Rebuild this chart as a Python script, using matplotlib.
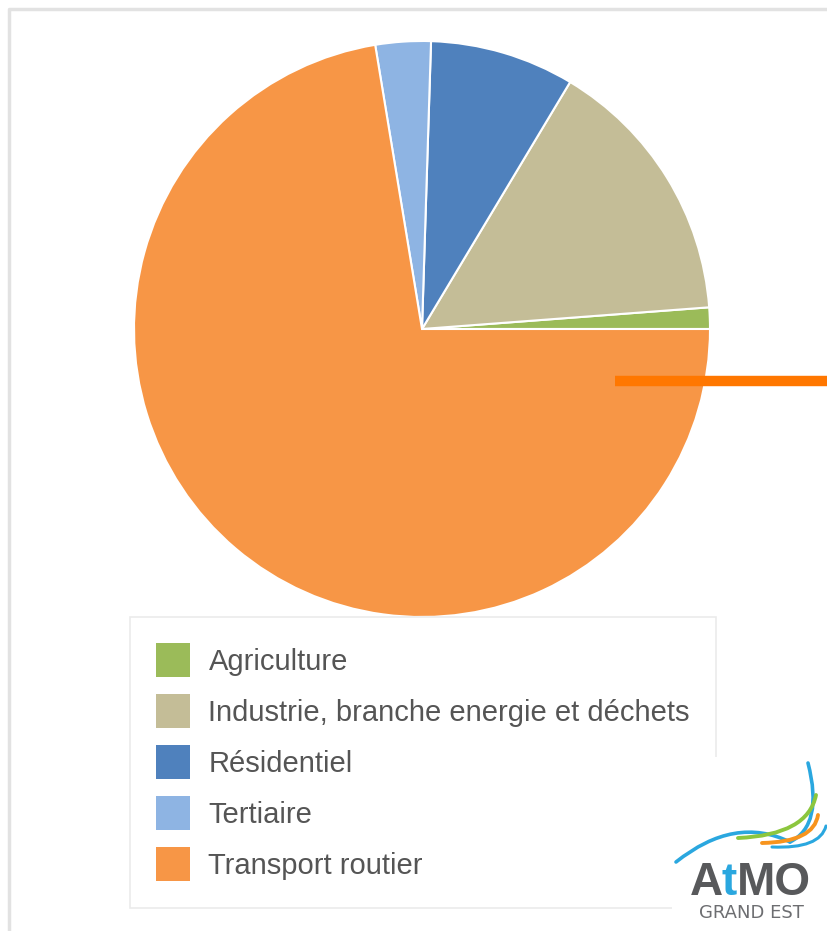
import matplotlib.pyplot as plt
from matplotlib.patches import Rectangle, PathPatch
from matplotlib.path import Path

# data (share of emissions, %)
labels = ["Agriculture", "Industrie, branche energie et déchets", "Résidentiel",
          "Tertiaire", "Transport routier"]
values = [1.2, 15.2, 8.1, 3.1, 72.4]
colors = ["#9BBB59", "#C4BD97", "#4F81BD", "#8EB4E3", "#F79646"]

W, H = 828, 931
fig = plt.figure(figsize=(W / 100, H / 100), dpi=100)
fig.patch.set_facecolor("white")
plt.rcParams["font.family"] = ["Liberation Sans", "DejaVu Sans"]

# pie: centre (422, 329), radius 288 px
cx, cy, r = 422, 329, 288
ax = fig.add_axes([(cx - r) / W, 1 - (cy + r) / H, 2 * r / W, 2 * r / H])
wedges, _ = ax.pie(values, colors=colors, startangle=0, counterclock=True,
                   wedgeprops=dict(edgecolor="white", linewidth=1.5))
ax.set_xlim(-1, 1)
ax.set_ylim(-1, 1)
ax.set_aspect("equal")
ax.axis("off")

leg = fig.legend(wedges, labels, loc="upper left",
                 bbox_to_anchor=(130 / W, 1 - 617 / H),
                 bbox_transform=fig.transFigure,
                 fontsize=21, frameon=True, fancybox=False,
                 edgecolor="#e6e6e6", labelcolor="#555555",
                 handlelength=1.17, handleheight=1.42, handletextpad=0.62,
                 labelspacing=0.58, borderpad=0.9, borderaxespad=0)
leg.get_frame().set_linewidth(1.2)
for h in leg.legend_handles:
    h.set_edgecolor("none")

# overlay in pixel coordinates: frame, orange marker line, logo
ov = fig.add_axes([0, 0, 1, 1], facecolor="none")
ov.set_zorder(10)  # above the legend so the logo patch hides its corner
ov.set_xlim(0, W)
ov.set_ylim(H, 0)
ov.axis("off")

ov.plot([9, 9, W + 5], [H + 5, 9, 9], color="#e2e2e2", lw=2.5)
ov.plot([615, W], [381, 381], color="#FF7700", lw=7.5, solid_capstyle="butt")

# logo on a white patch
ov.add_patch(Rectangle((672, 757), W - 672, H - 757, facecolor="white",
                       edgecolor="none", zorder=5))


def curve(p0, p1, p2, color, lw):
    path = Path([p0, p1, p2], [Path.MOVETO, Path.CURVE3, Path.CURVE3])
    ov.add_patch(PathPatch(path, facecolor="none", edgecolor=color, lw=lw,
                           capstyle="round", zorder=6))


curve((676, 862), (735, 815), (790, 842), "#2AA7DF", 2.6)
curve((790, 842), (824, 825), (808, 763), "#2AA7DF", 2.6)
curve((738, 838), (808, 835), (816, 795), "#8CC63E", 2.8)
curve((762, 843), (814, 842), (818, 815), "#F7941D", 2.8)
curve((772, 847), (820, 849), (826, 826), "#2AA7DF", 2.2)

ov.text(690, 895, "A", fontsize=33, fontweight="bold", color="#58595B",
        va="baseline", ha="left", zorder=7)
ov.text(722, 895, "t", fontsize=33, fontweight="bold", color="#2AA7DF",
        va="baseline", ha="left", zorder=7)
ov.text(737, 895, "MO", fontsize=33, fontweight="bold", color="#58595B",
        va="baseline", ha="left", zorder=7)
ov.text(751, 918, "GRAND EST", fontsize=13, color="#6D6E71",
        family="DejaVu Sans", va="baseline", ha="center", zorder=7)

fig.savefig("out.png", dpi=100)
